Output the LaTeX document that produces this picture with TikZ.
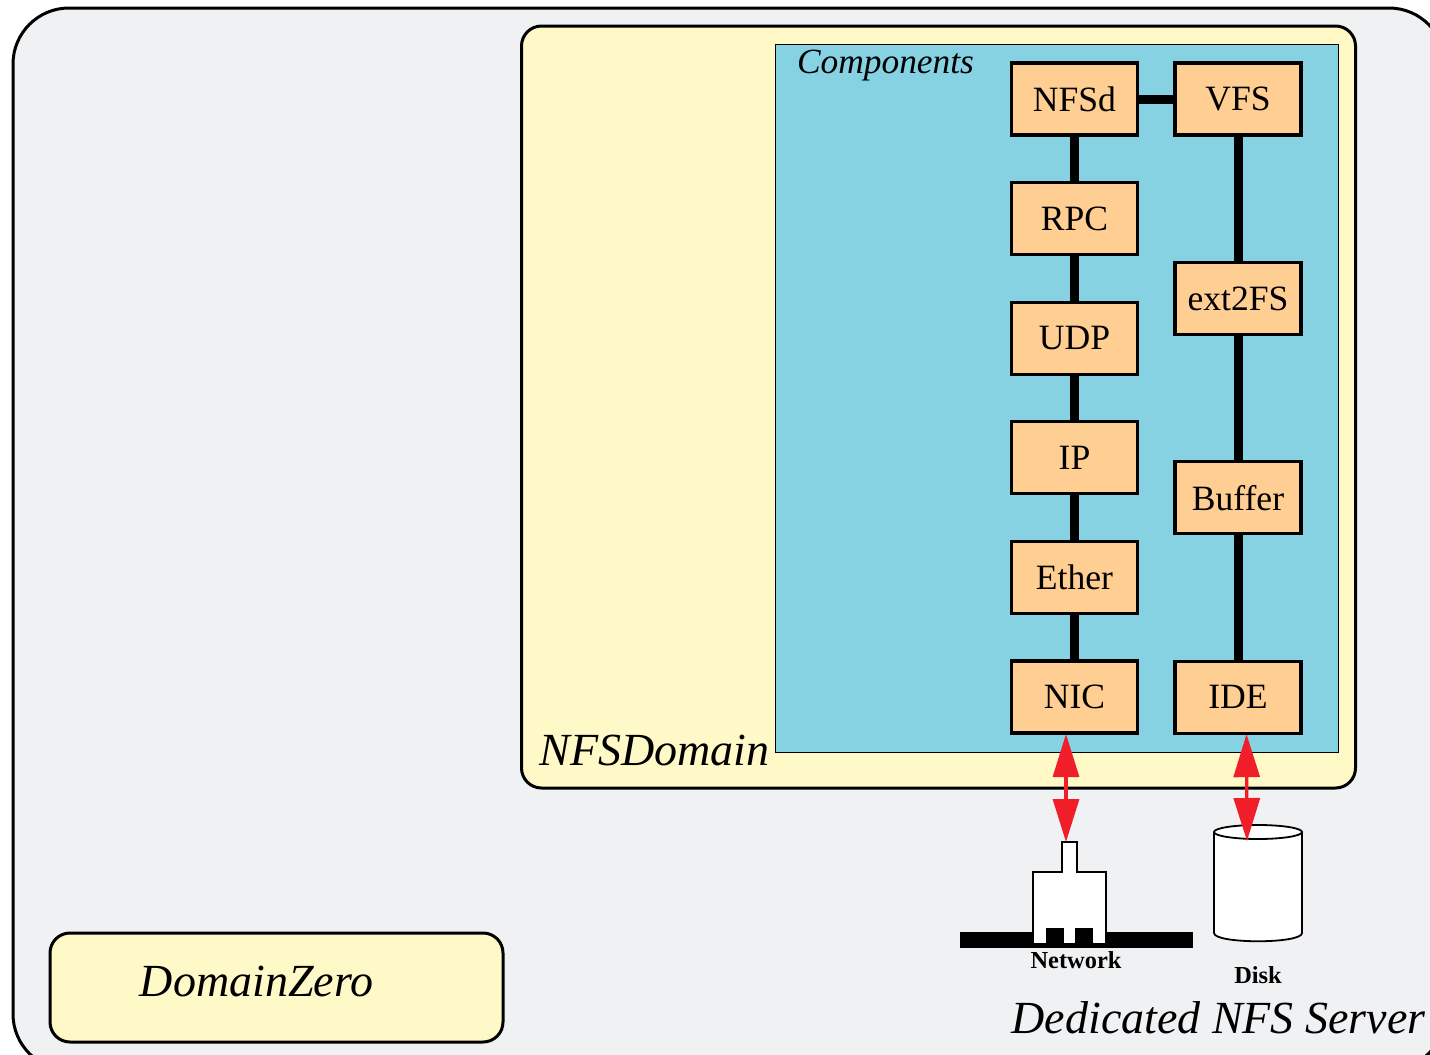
\documentclass[tikz,border=0pt]{standalone}
\usepackage{fontspec}
\setmainfont{Liberation Serif}
\usepackage{tikz}
\usetikzlibrary{positioning,arrows.meta}
\definecolor{serverbg}{HTML}{F0F1F3}
\definecolor{domainbg}{HTML}{FFF9C8}
\definecolor{compbg}{HTML}{87D2E2}
\definecolor{layerbg}{HTML}{FFCE92}
\definecolor{linkred}{HTML}{F01E28}

\begin{document}
\begin{tikzpicture}
			[x=0.5pt, y=-0.5pt,
			region/.style={rectangle, draw=black, line width=1.5pt, outer sep=0pt},
			layer/.style={rectangle, draw=black, fill=layerbg, line width=1.6pt, outer sep=0pt,
				minimum width=63pt, minimum height=36pt, inner sep=0pt, font=\fontsize{17.8}{20}\selectfont},
			stack/.style={draw=black, line width=4.5pt},
			link/.style={draw=linkred, line width=1.6pt,
				{Triangle[width=13pt,length=21.5pt]}-{Triangle[width=13pt,length=21.5pt]}},
			title/.style={inner sep=0pt, font=\fontsize{23}{26}\selectfont\itshape},
			device/.style={inner sep=0pt, font=\fontsize{12.2}{14}\selectfont\bfseries},
			]
			\useasboundingbox (0,0) rectangle (1430,1055);
			\clip (0,0) rectangle (1430,1055);
			
			% regions
			\node[region, fill=serverbg, rounded corners=28pt, minimum width=716pt, minimum height=531pt] (server) at (729,539) {};
			\node[region, fill=domainbg, rounded corners=10pt, minimum width=417pt, minimum height=381pt] (nfsdomain) at (938.5,407) {};
			\node[region, fill=compbg, line width=0.5pt, minimum width=281.5pt, minimum height=354pt] (components) at (1057,398) {};
			\node[region, fill=domainbg, rounded corners=10pt, minimum width=226.5pt, minimum height=54.5pt] (domainzero) at (276.5,987.5) {};
			
			\node[title, font=\fontsize{17.7}{20}\selectfont\itshape] (complabel) at (885.5,66) {Components};
			\node[title] (domlabel) at (654.5,750) {NFSDomain};
			\node[title] (zerolabel) at (256.5,981) {DomainZero};
			\node[title] (serverlabel) at (1218.5,1018) {Dedicated NFS Server};
			
			% network side
			\node[layer] (NFSd) at (1074.5,99) {NFSd};
			\node[layer, below=23.8pt of NFSd] (RPC) {RPC};
			\node[layer, below=23.8pt of RPC] (UDP) {UDP};
			\node[layer, below=23.8pt of UDP] (IP) {IP};
			\node[layer, below=23.8pt of IP] (Ether) {Ether};
			\node[layer, below=23.8pt of Ether] (NIC) {NIC};
			
			% disk side
			\node[layer, right=18.75pt of NFSd] (VFS) {VFS};
			\node[layer, below=63.7pt of VFS] (ext2FS) {ext2FS};
			\node[layer, below=63.7pt of ext2FS] (Buffer) {Buffer};
			\node[layer, below=63.7pt of Buffer] (IDE) {IDE};
			
			\draw[stack] (NFSd) -- (VFS);
			\foreach \a/\b in {NFSd/RPC,RPC/UDP,UDP/IP,IP/Ether,Ether/NIC,VFS/ext2FS,ext2FS/Buffer,Buffer/IDE}
				\draw[stack] (\a) -- (\b);
			
			% network card
			\node[rectangle, fill=black, inner sep=0pt, minimum width=116.5pt, minimum height=8pt] (wire) at (1076.5,940) {};
			\draw[black, fill=white, line width=0.9pt] (1062,842) -- (1077,842) -- (1077,872) -- (1106,872) -- (1106,944)
				-- (1092,944) -- (1092,929) -- (1076,929) -- (1076,944) -- (1063,944) -- (1063,929)
				-- (1047,929) -- (1047,944) -- (1033,944) -- (1033,872) -- (1062,872) -- cycle;
			\fill[black] (1047,930) rectangle (1063,944);
			\fill[black] (1076,930) rectangle (1092,944);
			\coordinate (plugtop) at (1066,842);
			\node[device] (netlabel) at (1076,960) {Network};
			
			% disk
			\draw[black, fill=white, line width=0.9pt] (1214,832) -- (1214,933) .. controls (1214,944) and (1302,944) .. (1302,933) -- (1302,832);
			\draw[black, fill=white, line width=0.9pt] (1258,832) ellipse [x radius=44, y radius=7];
			\coordinate (diskface) at (1247,841);
			\node[device] (disklabel) at (1258,975) {Disk};
			
			\draw[link] ([xshift=-4.25pt,yshift=-0.5pt]NIC.south) -- (plugtop);
			\draw[link] ([xshift=4.25pt,yshift=-0.5pt]IDE.south) -- (diskface);
			
		\end{tikzpicture}
\end{document}
